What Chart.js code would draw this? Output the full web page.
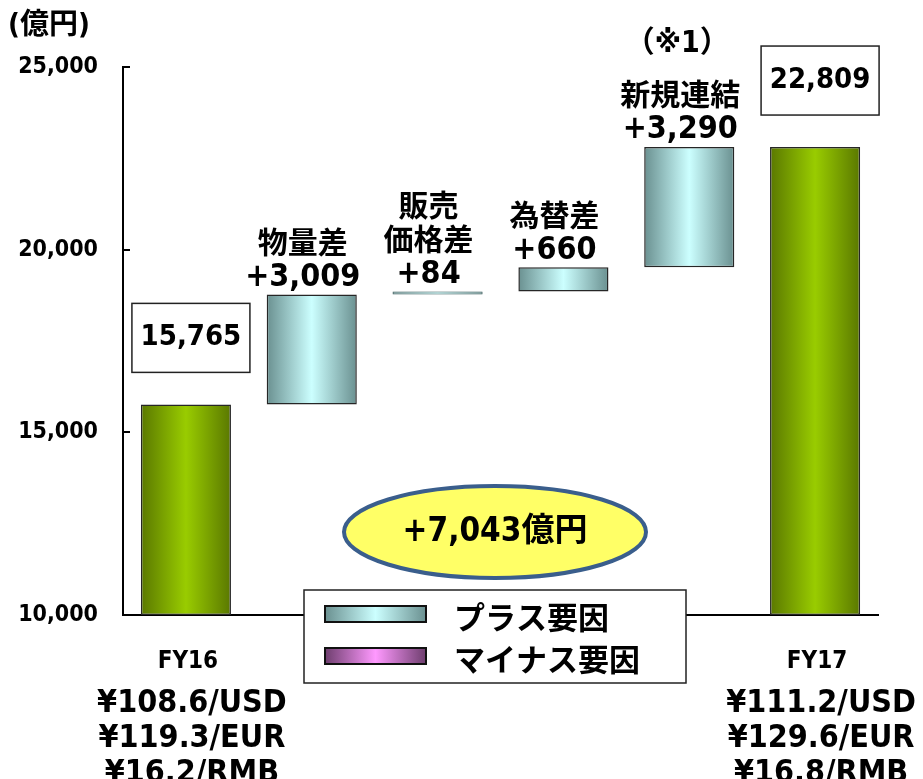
<!DOCTYPE html>
<html>
<head>
<meta charset="utf-8">
<script src="https://cdn.jsdelivr.net/npm/chart.js@4.4.1/dist/chart.umd.min.js"></script>
<style>
  html, body { margin: 0; padding: 0; background: #fff; }
  #wrap { width: 923px; height: 779px; position: relative; }
</style>
</head>
<body>
<div id="wrap"><canvas id="waterfall"></canvas></div>
<script>
// chart data
const categories = ["FY16", "物量差", "販売価格差", "為替差", "新規連結", "FY17"];
const startTotal = 15765;
const endTotal = 22809;
const deltas = [3009, 84, 660, 3290];
const deltaNames = [["物量差"], ["販売", "価格差"], ["為替差"], ["新規連結"]];
const noteLabel = "（※1）"; // sits above 新規連結
const fxLabels = [
  ["¥108.6/USD", "¥119.3/EUR", "¥16.2/RMB"],
  [], [], [], [],
  ["¥111.2/USD", "¥129.6/EUR", "¥16.8/RMB"],
];
const legendLabels = ["プラス要因", "マイナス要因"];
const unitLabel = "(億円)";
const yMin = 10000;
const yMax = 25000;
const yStep = 5000;

const NUM = '"DejaVu Sans Condensed", "DejaVu Sans", "Noto Sans CJK JP", sans-serif';
const JP = '"Noto Sans CJK JP", sans-serif';
const barPercent = 0.716;

const greenStops = ["#5A7800", "#99CC00", "#5A7800"];
const plusStops = ["#6A9090", "#CCFFFF", "#6A9090"];
const minusStops = ["#6E3E6E", "#FF99FF", "#6E3E6E"];

function formatNumber(value) {
  return value.toLocaleString("en-US");
}

// build floating bars from the totals and the steps between them
const floatingBars = [[yMin, startTotal]];
let running = startTotal;
for (const step of deltas) {
  floatingBars.push([running, running + step]);
  running += step;
}
floatingBars.push([yMin, endTotal]);
const totalChange = deltas.reduce((a, b) => a + b, 0);

function isTotal(index) {
  return index === 0 || index === categories.length - 1;
}

function hGradient(ctx, left, right, stops) {
  const g = ctx.createLinearGradient(left, 0, right, 0);
  g.addColorStop(0, stops[0]);
  g.addColorStop(0.5, stops[1]);
  g.addColorStop(1, stops[2]);
  return g;
}

function barFill(context) {
  const chart = context.chart;
  const area = chart.chartArea;
  if (!area) return "#99CC00";
  const cx = chart.scales.x.getPixelForValue(context.dataIndex);
  const half = (area.right - area.left) / categories.length * barPercent / 2;
  return hGradient(chart.ctx, cx - half, cx + half, isTotal(context.dataIndex) ? greenStops : plusStops);
}

function drawText(ctx, text, x, y, font) {
  ctx.font = font;
  ctx.fillText(text, x, y);
}

const waterfallPlugin = {
  id: "waterfallDecor",
  afterDatasetsDraw(chart) {
    const { ctx, chartArea, scales } = chart;
    const yScale = scales.y;
    const xScale = scales.x;
    ctx.save();
    ctx.fillStyle = "#000";
    ctx.textAlign = "center";
    ctx.textBaseline = "middle";

    // inward tick marks on the value axis
    ctx.strokeStyle = "#000";
    ctx.lineWidth = 2;
    for (let v = yMin + yStep; v <= yMax; v += yStep) {
      const y = Math.round(yScale.getPixelForValue(v));
      ctx.beginPath();
      ctx.moveTo(chartArea.left, y);
      ctx.lineTo(chartArea.left + 7, y);
      ctx.stroke();
    }

    // unit label
    ctx.textAlign = "left";
    drawText(ctx, unitLabel, 8, 26, "bold 29px " + NUM);
    ctx.textAlign = "center";

    const meta = chart.getDatasetMeta(0);

    // total boxes
    [0, categories.length - 1].forEach((i) => {
      const bar = meta.data[i];
      const value = i === 0 ? startTotal : endTotal;
      const boxW = 118;
      const boxH = 69;
      const cx = bar.x + 5;
      const bottom = bar.y - 32;
      ctx.fillStyle = "#fff";
      ctx.fillRect(cx - boxW / 2, bottom - boxH, boxW, boxH);
      ctx.strokeStyle = "#222";
      ctx.lineWidth = 1.5;
      ctx.strokeRect(cx - boxW / 2, bottom - boxH, boxW, boxH);
      ctx.fillStyle = "#000";
      drawText(ctx, formatNumber(value), cx, bottom - boxH / 2, "bold 29px " + NUM);
    });

    // step labels
    deltas.forEach((step, k) => {
      const bar = meta.data[k + 1];
      const top = Math.min(bar.y, bar.base);
      const cx = bar.x - 9;
      let y = top - 17;
      drawText(ctx, "+" + formatNumber(step), cx, y, "bold 32px " + NUM);
      const names = deltaNames[k];
      y -= 2;
      for (let n = names.length - 1; n >= 0; n--) {
        y -= 34;
        drawText(ctx, names[n], cx, y, "bold 30px " + JP);
      }
      if (k === deltas.length - 1) {
        drawText(ctx, noteLabel, cx - 3, y - 50, "bold 30px " + NUM);
      }
    });

    // category labels under the axis
    categories.forEach((name, i) => {
      if (!isTotal(i)) return;
      const cx = xScale.getPixelForValue(i);
      drawText(ctx, name, cx + 2, chartArea.bottom + 47, "bold 24px " + NUM);
      fxLabels[i].forEach((line, j) => {
        drawText(ctx, line, cx + 6, chartArea.bottom + 89 + j * 35, "bold 32px " + NUM);
      });
    });
    ctx.restore();
  },
  afterDraw(chart) {
    const { ctx, chartArea } = chart;
    ctx.save();

    // total change bubble
    const ex = chartArea.left + 372;
    const ey = chartArea.bottom - 83;
    ctx.beginPath();
    ctx.ellipse(ex, ey, 151, 46, 0, 0, Math.PI * 2);
    ctx.fillStyle = "#FFFF66";
    ctx.fill();
    ctx.lineWidth = 4;
    ctx.strokeStyle = "#3A5E8C";
    ctx.stroke();
    ctx.fillStyle = "#000";
    ctx.textAlign = "center";
    ctx.textBaseline = "middle";
    drawText(ctx, "+" + formatNumber(totalChange) + "億円", ex, ey, "bold 33px " + NUM);

    // legend
    const lx = chartArea.left + 181;
    const ly = chartArea.bottom - 25;
    const lw = 382;
    const lh = 93;
    ctx.fillStyle = "#fff";
    ctx.fillRect(lx, ly, lw, lh);
    ctx.strokeStyle = "#222";
    ctx.lineWidth = 1.5;
    ctx.strokeRect(lx, ly, lw, lh);
    const swatchStops = [plusStops, minusStops];
    legendLabels.forEach((label, i) => {
      const sy = ly + 16 + i * 42;
      ctx.fillStyle = hGradient(ctx, lx + 21, lx + 122, swatchStops[i]);
      ctx.fillRect(lx + 21, sy, 101, 16);
      ctx.strokeStyle = "#111";
      ctx.lineWidth = 2;
      ctx.strokeRect(lx + 21, sy, 101, 16);
      ctx.fillStyle = "#000";
      ctx.textAlign = "left";
      drawText(ctx, label, lx + 150, sy + 11, "bold 31px " + JP);
    });
    ctx.restore();
  },
};

new Chart(document.getElementById("waterfall"), {
  type: "bar",
  data: {
    labels: categories,
    datasets: [
      {
        data: floatingBars,
        backgroundColor: barFill,
        borderColor: (c) => (Math.abs(floatingBars[c.dataIndex][1] - floatingBars[c.dataIndex][0]) < 300 ? "#2F5050" : "#262626"),
        borderWidth: (c) => (Math.abs(floatingBars[c.dataIndex][1] - floatingBars[c.dataIndex][0]) < 300 ? 1 : 1.5),
        borderSkipped: false,
        categoryPercentage: 1,
        barPercentage: barPercent,
      },
    ],
  },
  options: {
    responsive: true,
    maintainAspectRatio: false,
    animation: false,
    layout: { padding: { top: 67, right: 45, bottom: 164, left: 0 } },
    plugins: { legend: { display: false }, tooltip: { enabled: false } },
    scales: {
      x: {
        grid: { display: false },
        ticks: { display: false },
        border: { display: true, color: "#000", width: 2 },
        afterFit: (scale) => { scale.height = 0; },
      },
      y: {
        min: yMin,
        max: yMax,
        grid: { display: false, drawTicks: false },
        border: { display: true, color: "#000", width: 2 },
        ticks: {
          stepSize: yStep,
          padding: 25,
          color: "#000",
          font: { family: NUM, size: 23, weight: "bold" },
          callback: (value) => formatNumber(value),
        },
        afterFit: (scale) => { scale.width = 123; },
      },
    },
  },
  plugins: [waterfallPlugin],
});
</script>
</body>
</html>
